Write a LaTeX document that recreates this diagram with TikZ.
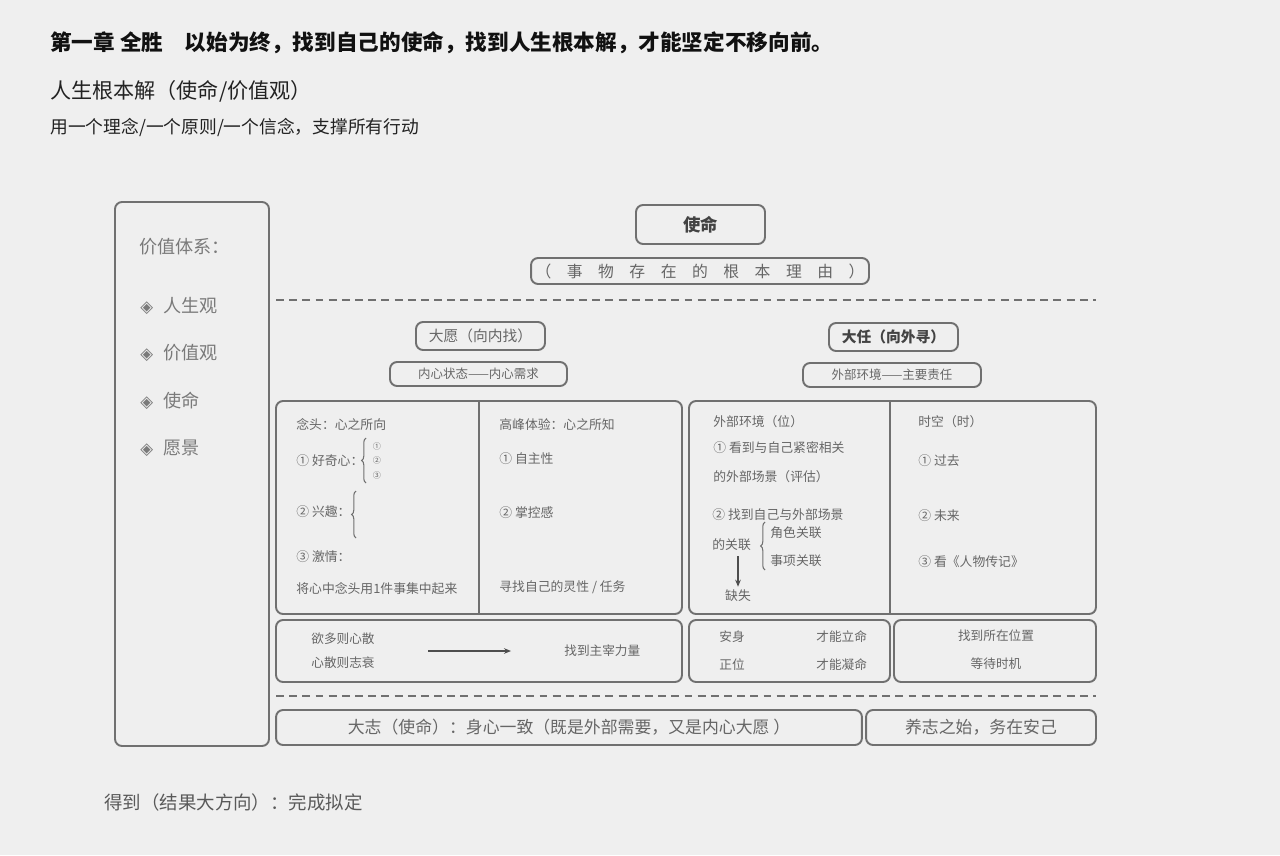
\documentclass[tikz,border=0pt]{standalone}
\usepackage{fontspec}
\setmainfont{Noto Sans CJK SC}
\newfontfamily\symfont{DejaVu Sans}
\usetikzlibrary{arrows.meta, fit, calc, decorations.pathreplacing}
\definecolor{Bg}   {HTML}{EFEFEF}
\definecolor{Edge} {HTML}{707070}
\definecolor{Ink}  {HTML}{111111}
\definecolor{Sub}  {HTML}{222222}
\definecolor{TxtG} {HTML}{666666}
\definecolor{SideG}{HTML}{7A7A7A}
\newcommand\dia{{\symfont\fontsize{9.5}{10}\selectfont ◈}}
\newcommand\lsp{\hspace{0.31cm}}
\tikzset{
  panel/.style={
    draw=Edge, line width=1.1pt, rounded corners=4pt, inner sep=0pt,
  },
  tbox/.style args={#1/#2}{
    panel, minimum width=#1, minimum height=#2, text=TxtG,
  },
  txt/.style={
    font=\fontsize{7.3}{9}\selectfont, text=TxtG,
    anchor=west, inner sep=0pt,
  },
  mini/.style={font=\fontsize{4.6}{5}\selectfont, text=TxtG, inner sep=0pt},
  side/.style={
    font=\fontsize{10.3}{12}\selectfont, text=SideG,
    anchor=west, inner sep=0pt,
  },
  dashsep/.style={draw=Edge, line width=0.9pt, dash pattern=on 4.5pt off 3pt},
  arr/.style={
    -{Stealth[length=4pt,width=3.2pt]},
    draw=Edge!70!black, line width=0.7pt,
  },
  brc/.style={
    decorate, decoration={brace, amplitude=2.5pt},
    draw=Edge, line width=0.6pt,
  },
}
\begin{document}
\begin{tikzpicture}[x=0.02cm,y=-0.02cm]

    \fill[Bg] (0,0) rectangle (1280,855);
    \useasboundingbox (0,0) rectangle (1280,855);

    % headings
    \node[anchor=west, inner sep=0pt, text=Ink,
          font=\bfseries\fontsize{12.3}{14}\selectfont] (title) at (50,43)
          {第一章 全胜\quad 以始为终，找到自己的使命，找到人生根本解，才能坚定不移向前。};
    \node[anchor=west, inner sep=0pt, text=Sub,
          font=\fontsize{12}{14}\selectfont] (subtitle) at (50,91)
          {人生根本解（使命/价值观）};
    \node[anchor=west, inner sep=0pt, text=Sub,
          font=\fontsize{10.1}{12}\selectfont] (motto) at (50,127)
          {用一个理念/一个原则/一个信念，支撑所有行动};

    % value system
    \node[panel, fit={(115,202)(269,746)}] (vsys) {};
    \node[side] (vhead) at (139,247) {价值体系：};
    \node[side] (vlife)  at (140,306) {\dia\hspace{5.8pt}人生观};
    \node[side] (vvalue) at (140,353) {\dia\hspace{5.8pt}价值观};
    \node[side] (vmiss)  at (140,401) {\dia\hspace{5.8pt}使命};
    \node[side] (vview)  at (140,448) {\dia\hspace{5.8pt}愿景};

    % mission
    \node[tbox=2.58cm/0.78cm, text=Sub!85,
          font=\bfseries\fontsize{9.9}{12}\selectfont] (mission) at (700.5,224.5) {使命};
    \node[tbox=6.76cm/0.52cm, font=\fontsize{9}{11}\selectfont] (reason) at (700,271)
          {（\lsp 事\lsp 物\lsp 存\lsp 在\lsp 的\lsp 根\lsp 本\lsp 理\lsp 由\lsp ）};
    \draw[dashsep] (276,300) -- (1096,300);

    \node[tbox=2.58cm/0.56cm, font=\fontsize{8.4}{10}\selectfont] (inward) at (480.5,336) {大愿（向内找）};
    \node[tbox=3.54cm/0.48cm, font=\fontsize{7.1}{9}\selectfont] (inneed) at (478.5,374) {内心状态——内心需求};
    \node[tbox=2.58cm/0.56cm, text=Sub!85,
          font=\bfseries\fontsize{8.4}{10}\selectfont] (outward) at (893.5,337) {大任（向外寻）};
    \node[tbox=3.56cm/0.48cm, font=\fontsize{7.1}{9}\selectfont] (outduty) at (892,375) {外部环境——主要责任};

    % inner / outer frames
    \node[panel, fit={(276,401)(682,614)}] (inw) {};
    \node[panel, fit={(689,401)(1096,614)}] (outw) {};
    \draw[panel] (inw.north) -- (inw.south);
    \draw[panel] ($(outw.north)+(-2.5,0)$) -- ($(outw.south)+(-2.5,0)$);

    \node[txt] (idea)   at (296,425) {念头：心之所向};
    \node[txt] (curio)  at (296,461) {① 好奇心：};
    \draw[brc] (366,483) -- (366,438);
    \node[mini] (curA) at (377,446) {①};
    \node[mini] (curB) at (377,460) {②};
    \node[mini] (curC) at (377,475) {③};
    \node[txt] (inter)  at (296,512) {② 兴趣：};
    \draw[brc] (356,538) -- (356,491);
    \node[txt] (passn)  at (296,557) {③ 激情：};
    \node[txt] (focus)  at (296,589) {将心中念头用1件事集中起来};

    \node[txt] (peak)   at (499,425) {高峰体验：心之所知};
    \node[txt] (auton)  at (499,459) {① 自主性};
    \node[txt] (mastr)  at (499,513) {② 掌控感};
    \node[txt] (spirit) at (499,587) {寻找自己的灵性 / 任务};

    \node[txt] (envir)  at (713,422) {外部环境（位）};
    \node[txt] (seeA)   at (713,448) {① 看到与自己紧密相关};
    \node[txt] (seeB)   at (713,477) {的外部场景（评估）};
    \node[txt] (linkA)  at (712,515) {② 找到自己与外部场景};
    \node[txt] (linkB)  at (712,545) {的关联};
    \draw[brc] (765,570) -- (765,522);
    \node[txt] (role)   at (770,533) {角色关联};
    \node[txt] (task)   at (770,561) {事项关联};
    \node[txt, anchor=center] (lack) at (738,596) {缺失};
    \draw[arr, shorten <=0.1cm, shorten >=0.06cm] (lack.north |- linkB.south) -- (lack.north);

    \node[txt] (spacet) at (918,422) {时空（时）};
    \node[txt] (past)   at (918,461) {① 过去};
    \node[txt] (futr)   at (918,516) {② 未来};
    \node[txt] (bios)   at (918,562) {③ 看《人物传记》};

    % bottom rows
    \node[panel, fit={(276,620)(682,682)}] (rowa) {};
    \node[panel, fit={(689,620)(890,682)}] (rowb) {};
    \node[panel, fit={(894,620)(1096,682)}] (rowc) {};

    \node[txt, align=left, font=\fontsize{7.2}{13.6}\selectfont] (desire) at (311,651) {欲多则心散\\心散则志衰};
    \node[txt, font=\fontsize{7.2}{9}\selectfont] (master) at (564,651) {找到主宰力量};
    \draw[arr, shorten <=1.07cm, shorten >=1.06cm] (desire) -- (master);

    \node[txt, align=left, font=\fontsize{7.2}{15.9}\selectfont] (body) at (719,651) {安身\\正位};
    \node[txt, align=left, font=\fontsize{7.2}{15.9}\selectfont] (fate) at (816,651) {才能立命\\才能凝命};
    \node[txt, anchor=center, align=center, font=\fontsize{7.2}{15.9}\selectfont] (wait) at (996,650) {找到所在位置\\等待时机};

    \draw[dashsep] (276,696) -- (1096,696);

    \node[tbox=11.72cm/0.70cm, font=\fontsize{9.6}{11}\selectfont] (dazhi) at (569,727.5)
          {大志（使命）：身心一致（既是外部需要，又是内心大愿 ）};
    \node[tbox=4.6cm/0.70cm, font=\fontsize{9.6}{11}\selectfont] (yangzhi) at (981,727.5)
          {养志之始，务在安己};

    \node[anchor=west, inner sep=0pt, text=Sub!75,
          font=\fontsize{10.5}{12}\selectfont] (gain) at (104,802) {得到（结果大方向）：完成拟定};

\end{tikzpicture}
\end{document}
